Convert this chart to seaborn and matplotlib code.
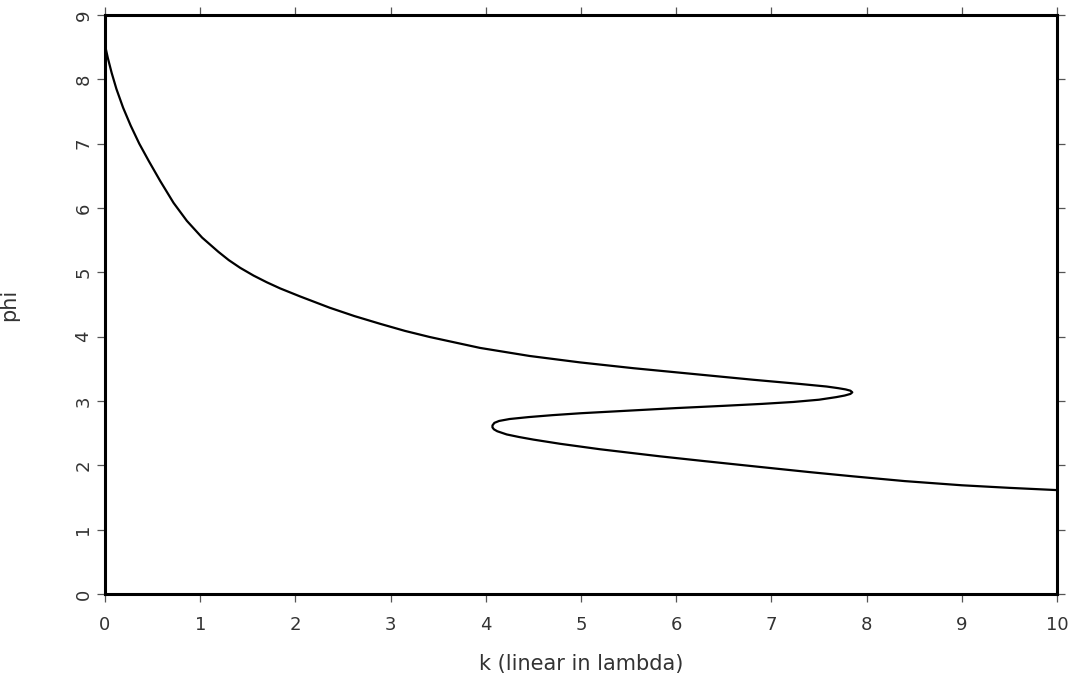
import numpy as np
import pandas as pd
import matplotlib
matplotlib.use('Agg')
import matplotlib.pyplot as plt
import seaborn as sns

# points, in drawing order (k is multi-valued in phi)
k_vals = [0.00, 0.03, 0.07, 0.12, 0.19, 0.27, 0.36, 0.46, 0.58, 0.72,
          0.86, 1.02, 1.19, 1.30, 1.42, 1.56, 1.70, 1.84, 2.05, 2.36,
          2.62, 2.89, 3.15, 3.41, 3.94, 4.46, 4.99, 5.55, 6.25, 6.81,
          7.30, 7.58, 7.70, 7.78, 7.83, 7.85, 7.83, 7.77, 7.68, 7.50,
          7.23, 6.90, 6.50, 6.00, 5.50, 5.00, 4.70, 4.45, 4.25, 4.14,
          4.09, 4.07, 4.07, 4.085, 4.12, 4.22, 4.35, 4.50, 4.78, 5.20,
          5.83, 6.30, 6.88, 7.40, 7.85, 8.40, 9.00, 9.50, 10.00]
phi_vals = [8.53, 8.33, 8.10, 7.85, 7.56, 7.28, 7.00, 6.73, 6.42, 6.08,
            5.80, 5.54, 5.32, 5.19, 5.07, 4.95, 4.845, 4.75, 4.625, 4.45,
            4.32, 4.20, 4.09, 3.995, 3.825, 3.70, 3.60, 3.51, 3.41, 3.33,
            3.265, 3.225, 3.20, 3.18, 3.16, 3.135, 3.11, 3.085, 3.06, 3.02,
            2.985, 2.955, 2.925, 2.89, 2.85, 2.81, 2.78, 2.75, 2.72, 2.69,
            2.66, 2.62, 2.59, 2.56, 2.53, 2.48, 2.44, 2.40, 2.335, 2.25,
            2.14, 2.065, 1.975, 1.895, 1.83, 1.755, 1.69, 1.65, 1.615]

x_ticks = list(range(0, 11))
y_ticks = list(range(0, 10))

df = pd.DataFrame({'k': k_vals, 'phi': phi_vals})

sns.set_style('ticks')
plt.rcParams['font.family'] = ['DejaVu Sans']

fig = plt.figure(figsize=(10.76, 6.81), dpi=100)
ax = fig.add_axes([105 / 1076, 1 - 594 / 681, 952 / 1076, 579 / 681])

sns.lineplot(data=df, x='k', y='phi', sort=False, estimator=None,
             color='black', linewidth=1.6, ax=ax)
ax.lines[0].set_solid_joinstyle('round')

ax.set_xlim(0, 10)
ax.set_ylim(0, 9)
ax.set_xticks(x_ticks)
ax.set_yticks(y_ticks)
ax.set_xticklabels([str(t) for t in x_ticks])
ax.set_yticklabels([str(t) for t in y_ticks], rotation=90, va='center')

for s in ax.spines.values():
    s.set_visible(True)
    s.set_linewidth(2.2)
    s.set_color('black')

ax.tick_params(axis='both', which='both', direction='out', length=6,
               width=0.9, color='#555555', labelsize=13, labelcolor='#333333',
               top=True, right=True, labeltop=False, labelright=False)
ax.tick_params(axis='x', pad=10)
ax.tick_params(axis='y', pad=3)

ax.set_xlabel('k (linear in lambda)', fontsize=15, color='#333333', labelpad=14)
ax.set_ylabel('phi', fontsize=15, color='#333333', labelpad=40)

fig.savefig('out.png', dpi=100)
